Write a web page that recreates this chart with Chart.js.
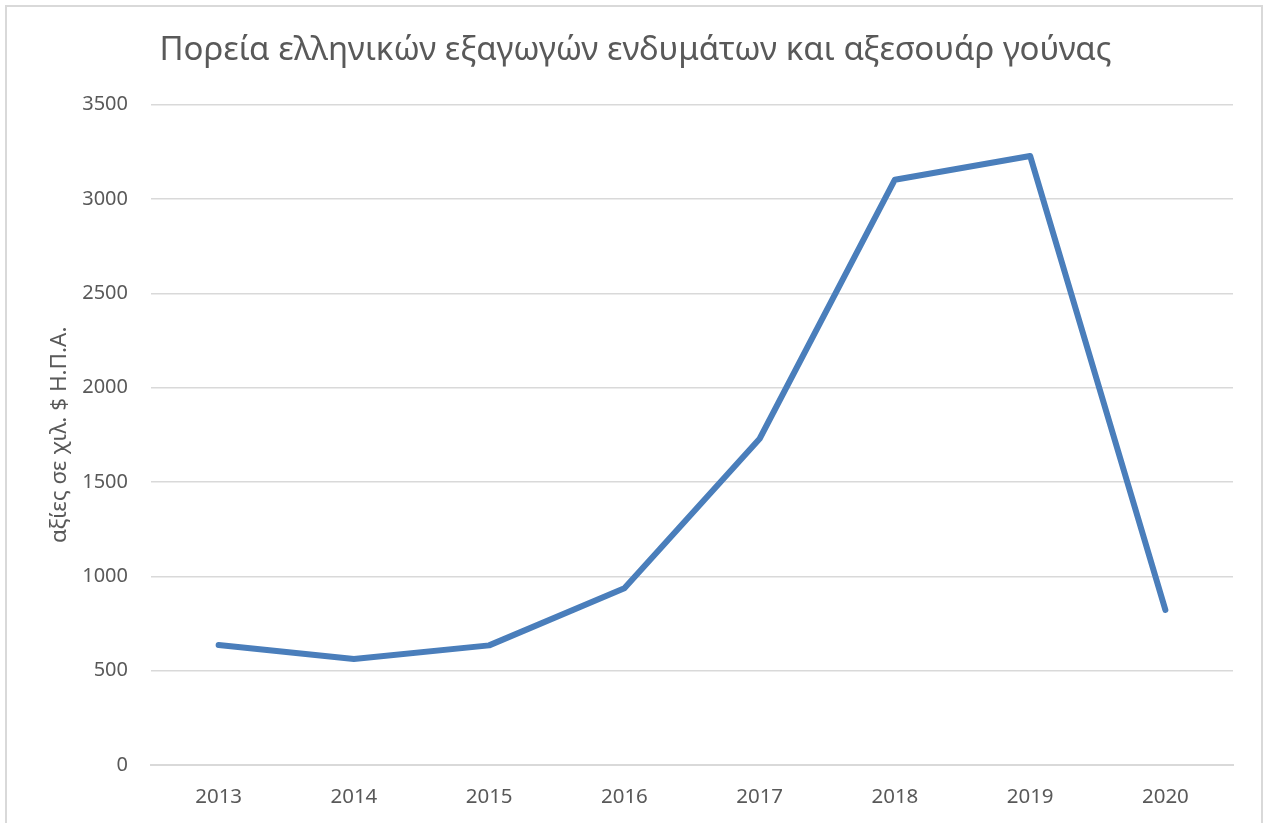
<!DOCTYPE html>
<html>
<head>
<meta charset="utf-8">
<script src="https://cdn.jsdelivr.net/npm/chart.js@4"></script>
<style>
  html, body { margin: 0; padding: 0; background: #fff; overflow: hidden; }
  #wrap { position: relative; width: 1264px; height: 823px; }
  #frame {
    position: absolute; left: 5px; top: 5px; width: 1254px; height: 830px;
    border: 2px solid #d9d9d9; pointer-events: none;
  }
</style>
</head>
<body>
<div id="wrap">
  <canvas id="exportChart" width="1264" height="823"></canvas>
  <div id="frame"></div>
</div>
<script>
// Years and export values (thousand USD)
const years = ['2013', '2014', '2015', '2016', '2017', '2018', '2019', '2020'];
const exportValues = [636, 562, 634, 937, 1729, 3102, 3228, 822];
const yTicks = [0, 500, 1000, 1500, 2000, 2500, 3000, 3500];

const chartTitle = 'Πορεία ελληνικών εξαγωγών ενδυμάτων και αξεσουάρ γούνας';
const yTitle = 'αξίες σε χιλ. $ Η.Π.Α.';

const fontFamily = '"Noto Sans", "DejaVu Sans", sans-serif';
const textColor = '#595959';
const gridColor = '#d9d9d9';

const ctx = document.getElementById('exportChart').getContext('2d');

new Chart(ctx, {
    type: 'line',
    data: {
        labels: years,
        datasets: [{
            data: exportValues,
            borderColor: '#4a7ebb',
            borderWidth: 6,
            borderCapStyle: 'round',
            borderJoinStyle: 'round',
            pointRadius: 0,
            fill: false,
            tension: 0
        }]
    },
    options: {
        responsive: false,
        animation: false,
        layout: { padding: { left: 38, right: 31, top: 0, bottom: 0 } },
        plugins: {
            legend: { display: false },
            tooltip: { enabled: false },
            title: {
                display: true,
                text: chartTitle,
                color: textColor,
                font: { family: fontFamily, size: 33, weight: 'normal', lineHeight: 1.2 },
                padding: { top: 31, bottom: 34 }
            }
        },
        scales: {
            x: {
                offset: true,
                grid: { display: false, drawTicks: false },
                border: { display: true, color: gridColor, width: 2 },
                ticks: {
                    color: textColor,
                    padding: 20,
                    maxRotation: 0,
                    font: { family: fontFamily, size: 20.5 }
                },
                afterFit: scale => { scale.height = 58; }
            },
            y: {
                min: 0,
                max: 3500,
                afterBuildTicks: scale => {
                    scale.ticks = yTicks.map(v => ({ value: v }));
                },
                grid: { color: gridColor, lineWidth: 1.5, drawTicks: false },
                border: { display: false },
                ticks: {
                    color: textColor,
                    padding: 23,
                    font: { family: fontFamily, size: 20 },
                    callback: value => String(value)
                },
                title: {
                    display: true,
                    text: yTitle,
                    color: textColor,
                    font: { family: fontFamily, size: 22.5, weight: 'normal', lineHeight: 1.2 },
                    padding: { top: 8, bottom: 0 }
                },
                afterFit: scale => { scale.width = 113; }
            }
        }
    }
});
</script>
</body>
</html>
